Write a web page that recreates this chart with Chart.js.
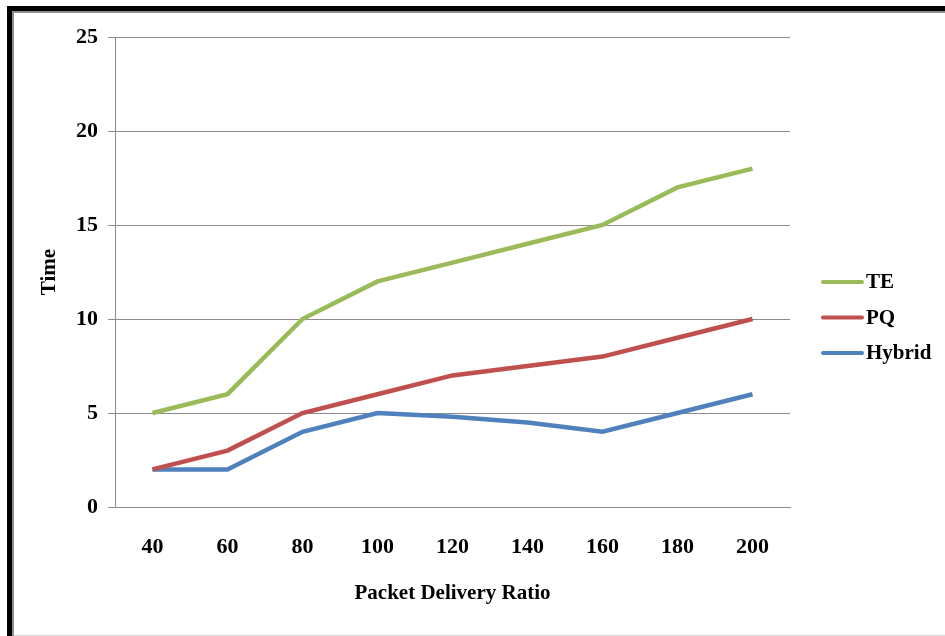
<!DOCTYPE html>
<html>
<head>
<meta charset="utf-8">
<script src="https://cdn.jsdelivr.net/npm/chart.js@4/dist/chart.umd.min.js"></script>
<style>
  html, body { margin: 0; padding: 0; background: #fff; }
  #wrap { width: 945px; height: 636px; position: relative; }
</style>
</head>
<body>
<div id="wrap"><canvas id="c" width="945" height="636"></canvas></div>
<script>
// Packet delivery ratio categories and time per method
const categories = ['40', '60', '80', '100', '120', '140', '160', '180', '200'];
const teValues = [5, 6, 10, 12, 13, 14, 15, 17, 18];
const pqValues = [2, 3, 5, 6, 7, 7.5, 8, 9, 10];
const hybridValues = [2, 2, 4, 5, 4.8, 4.5, 4, 5, 6];
const seriesNames = ['TE', 'PQ', 'Hybrid'];
const seriesColors = ['#9BBB59', '#C0504D', '#4F81BD'];

const FONT = "'Liberation Serif', 'Times New Roman', serif";
const GRID = '#8c8c8c';

// Outer frame: heavy black edge on top/left with a grey inner rim
const framePlugin = {
  id: 'frame',
  beforeDraw(chart) {
    const ctx = chart.ctx;
    ctx.save();
    ctx.fillStyle = '#fff';
    ctx.fillRect(0, 0, chart.width, chart.height);
    ctx.fillStyle = '#000';
    ctx.fillRect(7, 6, chart.width - 7, 5);
    ctx.fillRect(7, 6, 5, chart.height - 6);
    ctx.fillStyle = '#8f8f8f';
    ctx.fillRect(12, 11, chart.width - 12, 2);
    ctx.fillRect(12, 11, 2, chart.height - 11);
    ctx.fillStyle = '#d9d9d9';
    ctx.fillRect(14, chart.height - 1, chart.width - 14, 1);
    ctx.restore();
  }
};

// Legend to the right of the plot, one line sample per dataset
const sideLegend = {
  id: 'sideLegend',
  afterDraw(chart) {
    const ctx = chart.ctx;
    ctx.save();
    ctx.font = 'bold 21px ' + FONT;
    ctx.textBaseline = 'middle';
    chart.data.datasets.forEach((ds, i) => {
      const y = 282 + i * 35.5;
      ctx.strokeStyle = ds.borderColor;
      ctx.lineWidth = 4;
      ctx.lineCap = 'round';
      ctx.beginPath();
      ctx.moveTo(823, y);
      ctx.lineTo(862, y);
      ctx.stroke();
      ctx.fillStyle = '#000';
      ctx.fillText(ds.label, 866, y + 1);
    });
    ctx.restore();
  }
};

const seriesData = [teValues, pqValues, hybridValues];

new Chart(document.getElementById('c'), {
  type: 'line',
  data: {
    labels: categories,
    datasets: seriesNames.map((name, i) => ({
      label: name,
      data: seriesData[i],
      borderColor: seriesColors[i],
      backgroundColor: seriesColors[i],
      borderWidth: 4.5,
      pointRadius: 0,
      tension: 0,
      fill: false
    }))
  },
  options: {
    responsive: false,
    animation: false,
    layout: { padding: { left: 0, top: 37, right: 155, bottom: 0 } },
    plugins: { legend: { display: false }, tooltip: { enabled: false } },
    scales: {
      x: {
        offset: true,
        grid: { display: false, drawTicks: false },
        border: { display: true, color: GRID, width: 1 },
        ticks: { color: '#000', font: { family: FONT, size: 22, weight: 'bold' }, padding: 27, maxRotation: 0 },
        title: { display: true, text: 'Packet Delivery Ratio', color: '#000',
                 font: { family: FONT, size: 21, weight: 'bold' }, padding: { top: 0, bottom: 30 } },
        afterFit(scale) { scale.height = 636 - 507; }
      },
      y: {
        min: 0, max: 25,
        ticks: { stepSize: 5, color: '#000', font: { family: FONT, size: 22, weight: 'bold' }, padding: 10 },
        grid: { color: GRID, lineWidth: 1, drawTicks: true, tickLength: 7 },
        border: { display: true, color: GRID, width: 1 },
        title: { display: true, text: 'Time', color: '#000',
                 font: { family: FONT, size: 21, weight: 'bold' }, padding: { top: 37, bottom: 0 } },
        afterFit(scale) { scale.width = 115; }
      }
    }
  },
  plugins: [framePlugin, sideLegend]
});
</script>
</body>
</html>
